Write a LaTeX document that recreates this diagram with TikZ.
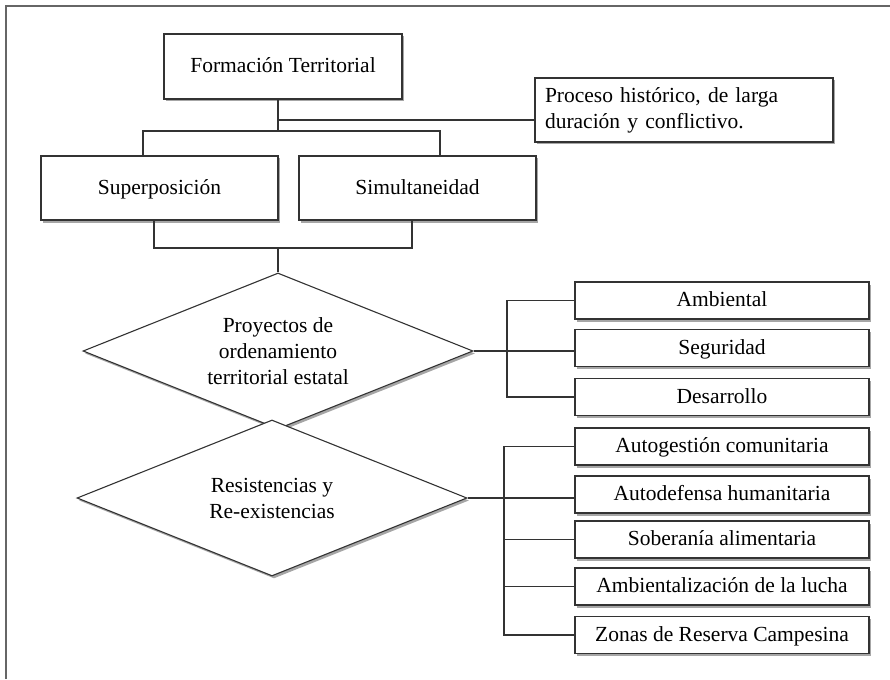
\documentclass[tikz,border=0pt]{standalone}
\usepackage{fontspec}
\setmainfont{Liberation Serif}
\usetikzlibrary{shapes.geometric,shadows}
\begin{document}
\begin{tikzpicture}[x=1pt,y=-1pt,
  every node/.style={font=\fontsize{21.5}{26}\selectfont},
  shad/.style={drop shadow={shadow xshift=2pt,shadow yshift=-2.5pt,opacity=0.35,fill=black}},
  box/.style={draw=black!80,line width=1.1pt,fill=white,shad,rectangle,inner sep=0pt,align=center},
  one/.style={text height=16pt,text depth=4pt},
  rbox/.style={box,one,minimum width=294pt,minimum height=37pt},
  dia/.style={draw=black!80,line width=1.1pt,fill=white,shad,diamond,shape aspect=2.5,inner sep=0pt,
    minimum width=390pt,minimum height=156pt,align=center},
  conn/.style={draw=black!80,line width=1.1pt}
]
\useasboundingbox (0,0) rectangle (890,679);
\fill[white] (0,0) rectangle (890,679);
\draw[line width=2pt,black!60] (6,679) -- (6,6) -- (890,6);

% top boxes
\node[box,one,minimum width=238pt,minimum height=65pt] (form) at (283,66.5) {Formación Territorial};
\node[box,minimum width=298pt,minimum height=64pt,align=left,text width=278pt] (proc) at (684,110)
  {Proceso histórico, de larga\\duración y conflictivo.};
\node[box,one,minimum width=237pt,minimum height=64pt] (sup) at (159.5,188) {Superposición};
\node[box,one,minimum width=237pt,minimum height=64pt] (sim) at (417.5,188) {Simultaneidad};

\coordinate (j1) at (278,120);
\coordinate (j2) at (278,131);
\coordinate (j3) at (278,248);

% diamonds
\node[dia] (d1) at (278,351) {Proyectos de\\ordenamiento\\territorial estatal};
\node[dia] (d2) at (272,498) {Resistencias y\\Re-existencias};

\draw[conn] (form.south -| j1) -- (j2);
\draw[conn] (j1) -- (proc.west |- j1);
\draw[conn] ([xshift=-16.5pt]sup.north) |- (j2) -| ([xshift=22.5pt]sim.north);
\draw[conn] ([xshift=-5.5pt]sup.south) |- (j3) -| ([xshift=-5.5pt]sim.south);
\draw[conn] (j3) -- (d1.north);

% right boxes
\node[rbox] (amb) at (722,300.5) {Ambiental};
\node[rbox] (seg) at (722,348) {Seguridad};
\node[rbox] (des) at (722,397) {Desarrollo};
\node[rbox] (ag) at (722,446.5) {Autogestión comunitaria};
\node[rbox] (ad) at (722,494.5) {Autodefensa humanitaria};
\node[rbox] (sa) at (722,539.5) {Soberanía alimentaria};
\node[rbox] (am) at (722,586.5) {Ambientalización de la lucha};
\node[rbox] (zr) at (722,635) {Zonas de Reserva Campesina};

\coordinate (b1) at (507,351);
\coordinate (b2) at (504,498);
\draw[conn] (amb.west) -| (b1) |- (des.west);
\draw[conn] (d1.east) -- (d1.east -| seg.west);
\draw[conn] (ag.west) -| (b2) |- (zr.west);
\draw[conn] (d2.east) -- (d2.east -| ad.west);
\draw[conn] (b2 |- sa.west) -- (sa.west);
\draw[conn] (b2 |- am.west) -- (am.west);
\end{tikzpicture}
\end{document}
